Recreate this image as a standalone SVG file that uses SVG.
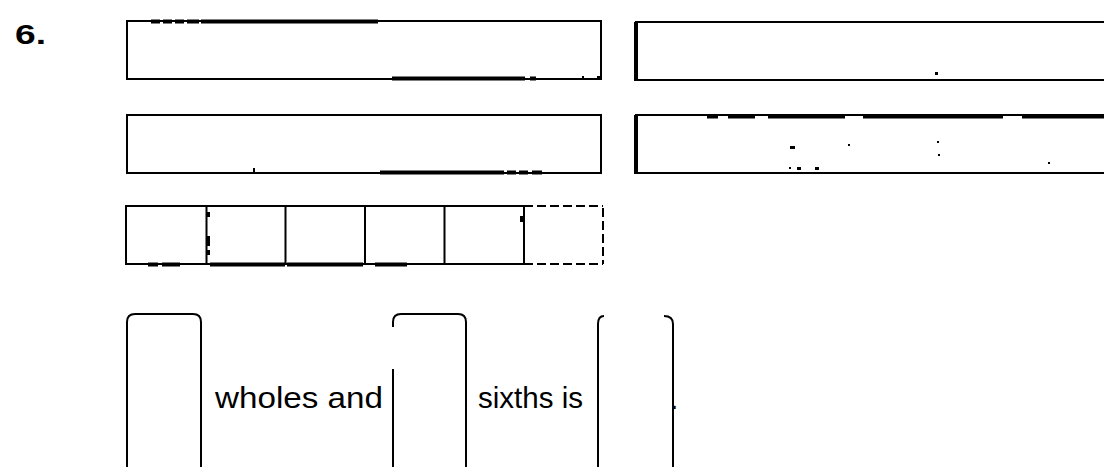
<svg xmlns="http://www.w3.org/2000/svg" width="1104" height="467" viewBox="0 0 1104 467">
<style>
.ln{fill:none;stroke:#000;stroke-width:2}
.th{fill:none;stroke:#000;stroke-width:4}
.br{fill:none;stroke:#000;stroke-width:2}
.dash{fill:none;stroke:#000;stroke-width:2;stroke-dasharray:9,4}
.txt{font-family:"Liberation Sans",Arial,sans-serif;font-size:30px;fill:#000}
.num{font-family:"Liberation Sans",Arial,sans-serif;font-size:27px;font-weight:bold;fill:#000}
.dot{fill:#000}
</style>
<rect width="1104" height="467" fill="#fff"/>
<text id="label6" class="num" x="15" y="44" textLength="31" lengthAdjust="spacingAndGlyphs">6.</text>

<g id="bar1">
<rect class="ln" x="127" y="21" width="474" height="58"/>
<path class="th" d="M151,21.5 H160 M163,21.5 H172 M175,21.5 H184 M187,21.5 H199 M201,21.5 H378"/>
<path class="th" d="M392,78.5 H525 M530,78.5 H536"/>
<rect class="dot" x="582" y="76" width="2" height="3"/>
<rect class="dot" x="597" y="76" width="3" height="3"/>
</g>

<g id="bar2">
<rect class="ln" x="127" y="115" width="474" height="58"/>
<path class="th" d="M380,172.5 H504 M507,172.5 H516 M519,172.5 H528 M532,172.5 H542"/>
<rect class="dot" x="253" y="168" width="2" height="4"/>
</g>

<g id="bar3">
<rect class="ln" x="636" y="22" width="480" height="58"/>
<rect class="dot" x="634" y="22" width="4" height="59"/>
<rect class="dot" x="935" y="72" width="3" height="3"/>
</g>

<g id="bar4">
<rect class="ln" x="636" y="115" width="480" height="58"/>
<rect class="dot" x="634" y="115" width="4" height="59"/>
<path class="th" d="M707,116.5 H718 M728,116.5 H755 M768,116.5 H845 M863,116.5 H1003 M1022,116.5 H1104"/>
<rect class="dot" x="790" y="146" width="5" height="3"/>
<rect class="dot" x="789" y="167" width="2" height="2"/>
<rect class="dot" x="797" y="167" width="4" height="3"/>
<rect class="dot" x="815" y="167" width="4" height="3"/>
<rect class="dot" x="848" y="144" width="2" height="2"/>
<rect class="dot" x="937" y="141" width="2" height="2"/>
<rect class="dot" x="938" y="154" width="2" height="2"/>
<rect class="dot" x="1048" y="162" width="2" height="2"/>
</g>

<g id="squares">
<rect class="ln" x="126" y="206" width="398" height="58"/>
<path class="ln" d="M206.5,206 V264 M285.5,206 V264 M365,206 V264 M444.5,206 V264"/>
<path class="th" d="M148,264.5 H158 M162,264.5 H180 M210,264.5 H285 M287,264.5 H363 M375,264.5 H407"/>
<rect class="dot" x="207" y="212" width="3" height="5"/>
<rect class="dot" x="207" y="236" width="3" height="10"/>
<rect class="dot" x="207" y="250" width="3" height="5"/>
<rect class="dot" x="520" y="216" width="3" height="6"/>
</g>

<g id="square6">
<path class="dash" d="M524,206 H603 M524,264 H603"/>
<path class="dash" d="M603,208 V264" stroke-dasharray="3,6"/>
</g>

<g id="box1">
<path class="br" d="M127,472 V322 Q127,314 135,314 H193 Q201,314 201,322 V472"/>
</g>
<text id="t1" class="txt" x="215" y="408" textLength="168" lengthAdjust="spacingAndGlyphs">wholes and</text>

<g id="box2">
<path class="br" d="M393,327 V322 Q393,314 401,314 H458 Q466,314 466,322 V472 M393,369 V472"/>
</g>
<text id="t2" class="txt" x="478" y="408" textLength="105" lengthAdjust="spacingAndGlyphs">sixths is</text>

<g id="box3">
<path class="br" d="M598,472 V324 Q598,316 604,316 M664,316 Q673,316 673,324 V472"/>
</g>
<text id="t3" class="txt" x="670" y="409">.</text>
</svg>
